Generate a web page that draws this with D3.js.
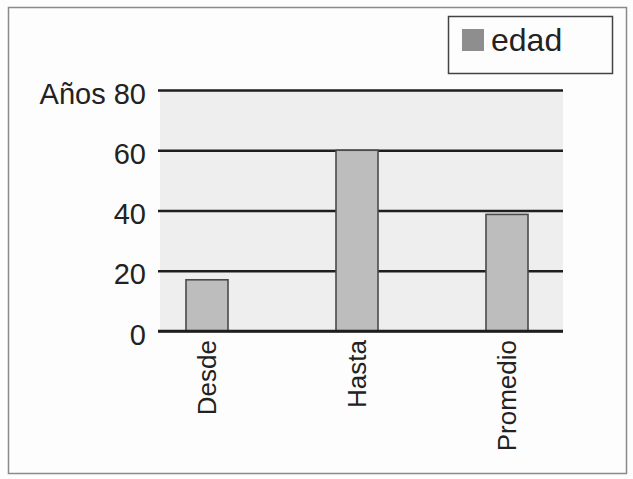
<!DOCTYPE html>
<html>
<head>
<meta charset="utf-8">
<script src="https://cdn.jsdelivr.net/npm/d3@7/dist/d3.min.js"></script>
<style>
  html, body { margin: 0; padding: 0; background: #fdfdfd; }
  svg { display: block; }
  text { font-family: "Liberation Sans", Arial, Helvetica, sans-serif; fill: #222; }
</style>
</head>
<body>
<svg id="chart" width="633" height="479"></svg>
<script>
// Age range: from, to, average
const categories = ["Desde", "Hasta", "Promedio"];
const edad = [17, 60, 38.7];
const tickValues = [0, 20, 40, 60, 80];
const tickLabels = ["0", "20", "40", "60", "Años 80"];
const seriesName = "edad";

const svg = d3.select("#chart");

// outer frame
svg.append("rect")
  .attr("x", 8.5).attr("y", 7.5)
  .attr("width", 618).attr("height", 466)
  .attr("fill", "#fdfdfd")
  .attr("stroke", "#8a8a8a").attr("stroke-width", 1.5);

const plot = { left: 158, right: 563, top: 90, bottom: 331 };

const x = d3.scaleBand()
  .domain(categories)
  .range([132, 582])
  .paddingInner(0.72)
  .paddingOuter(0.36);

const y = d3.scaleLinear()
  .domain([0, 80])
  .range([plot.bottom, plot.top]);

// plot background
svg.append("rect")
  .attr("x", plot.left + 2).attr("y", plot.top)
  .attr("width", plot.right - plot.left - 2)
  .attr("height", plot.bottom - plot.top)
  .attr("fill", "#eeeeee");

// y axis with gridlines
const yAxis = d3.axisLeft(y)
  .tickValues(tickValues)
  .tickSize(-(plot.right - plot.left))
  .tickPadding(12)
  .tickFormat((d, i) => tickLabels[i]);

const gy = svg.append("g")
  .attr("transform", `translate(${plot.left},0)`)
  .call(yAxis);
gy.select(".domain").remove();
gy.selectAll(".tick line")
  .attr("stroke", "#1e1e1e")
  .attr("stroke-width", 2.4);
gy.selectAll(".tick text")
  .attr("font-size", 29)
  .attr("dy", "0.45em")
  .attr("fill", "#222");

// bars
svg.append("g").selectAll("rect")
  .data(edad)
  .join("rect")
  .attr("x", (d, i) => x(categories[i]))
  .attr("y", d => y(d))
  .attr("width", x.bandwidth())
  .attr("height", d => y(0) - y(d))
  .attr("fill", "#bdbdbd")
  .attr("stroke", "#4a4a4a")
  .attr("stroke-width", 1.6);

// baseline over the bar bottoms
svg.append("line")
  .attr("x1", plot.left).attr("x2", plot.right)
  .attr("y1", y(0)).attr("y2", y(0))
  .attr("stroke", "#1e1e1e").attr("stroke-width", 2.4);

// rotated category labels
const xAxis = d3.axisBottom(x).tickSize(0).tickPadding(0);
const gx = svg.append("g")
  .attr("transform", `translate(0,${y(0) + 9})`)
  .call(xAxis);
gx.select(".domain").remove();
gx.selectAll(".tick text")
  .attr("font-size", 26)
  .attr("text-anchor", "end")
  .attr("transform", "rotate(-90)")
  .attr("x", 0)
  .attr("y", 0)
  .attr("dy", "0.36em")
  .attr("fill", "#222");

// legend
const legend = svg.append("g");
legend.append("rect")
  .attr("x", 448.5).attr("y", 16.5)
  .attr("width", 164).attr("height", 57)
  .attr("fill", "#fdfdfd")
  .attr("stroke", "#444").attr("stroke-width", 1.5);
legend.append("rect")
  .attr("x", 462).attr("y", 29)
  .attr("width", 22).attr("height", 22)
  .attr("fill", "#8e8e8e");
legend.append("text")
  .attr("x", 491).attr("y", 51)
  .attr("font-size", 32)
  .text(seriesName);
</script>
</body>
</html>
